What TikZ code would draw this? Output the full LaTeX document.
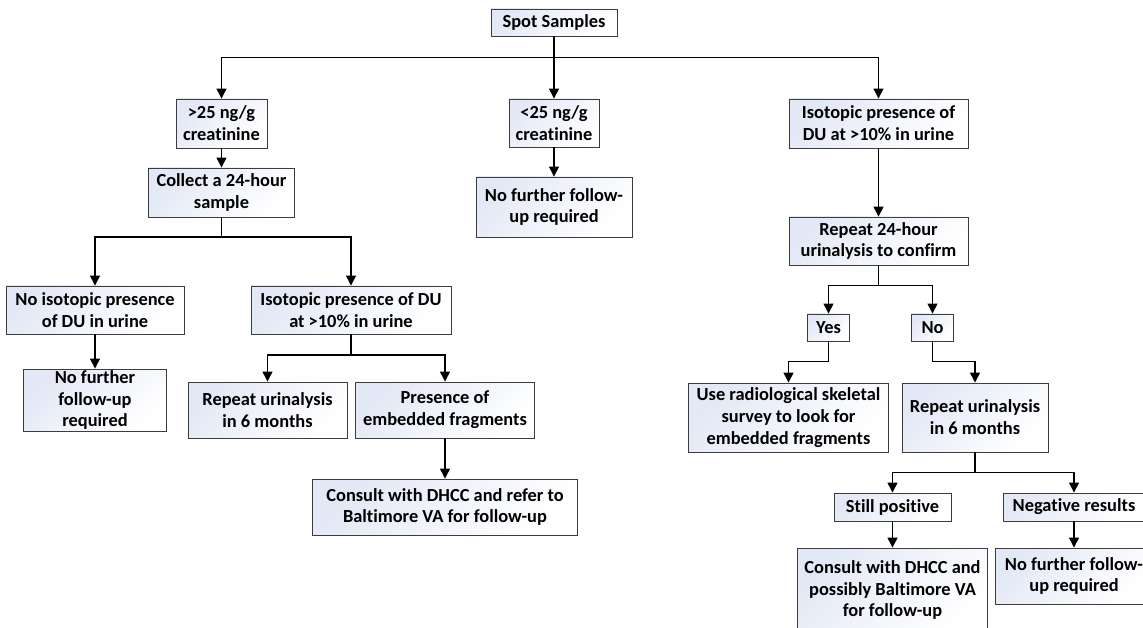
\documentclass[tikz,border=0pt]{standalone}
\usepackage{fontspec}
\setmainfont{Carlito}[Ligatures=NoCommon]
\usetikzlibrary{arrows.meta}
\definecolor{boxtl}{HTML}{E2E8F5}
\definecolor{boxedge}{HTML}{3C3C3C}
\tikzset{
  fbox/.style={draw=boxedge, line width=0.9pt, top color=boxtl, bottom color=white, shading angle=45,
    inner sep=0pt, align=center, font=\fontsize{18.4}{21.8}\selectfont\bfseries, text=black},
  arr/.style={line width=1.3pt, -{Triangle[width=10pt,length=10pt]}},
  ln/.style={line width=1.3pt}
}
\begin{document}
\begin{tikzpicture}[x=1pt,y=-1pt]
\useasboundingbox (0,0) rectangle (1143,628);
% nodes
\node[fbox, minimum width=126pt, minimum height=27pt] (spot) at (554,22.5) {Spot Samples};
\node[fbox, minimum width=91pt, minimum height=49pt] (gt25) at (221.5,123.5) {>25 ng/g\\creatinine};
\node[fbox, minimum width=90pt, minimum height=48pt] (lt25) at (554,123) {<25 ng/g\\creatinine};
\node[fbox, minimum width=179pt, minimum height=49pt] (iso1) at (878.5,123.5) {Isotopic presence of\\DU at >10\% in urine};
\node[fbox, minimum width=146pt, minimum height=49pt] (collect) at (221.5,192.5) {Collect a 24-hour\\sample};
\node[fbox, minimum width=156pt, minimum height=60pt] (nofu1) at (554,207) {No further follow-\\up required};
\node[fbox, minimum width=179pt, minimum height=48pt] (rep24) at (878.5,241) {Repeat 24-hour\\urinalysis to confirm};
\node[fbox, minimum width=178pt, minimum height=48pt] (noiso) at (95,310) {No isotopic presence\\of DU in urine};
\node[fbox, minimum width=200pt, minimum height=48pt] (iso2) at (351,310) {Isotopic presence of DU\\at >10\% in urine};
\node[fbox, minimum width=42pt, minimum height=27pt] (yes) at (828.5,327.5) {Yes};
\node[fbox, minimum width=42pt, minimum height=27pt] (no) at (932.5,327.5) {No};
\node[fbox, minimum width=143pt, minimum height=62pt] (nofu2) at (95,400) {No further\\follow-up\\required};
\node[fbox, minimum width=159pt, minimum height=56pt] (repA) at (267.5,410) {Repeat urinalysis\\in 6 months};
\node[fbox, minimum width=179pt, minimum height=56pt] (emb) at (445,410) {Presence of\\embedded fragments};
\node[fbox, minimum width=200pt, minimum height=69pt] (radio) at (788.5,417.5) {Use radiological skeletal\\survey to look for\\embedded fragments};
\node[fbox, minimum width=146pt, minimum height=69pt] (repB) at (975,417.5) {Repeat urinalysis\\in 6 months};
\node[fbox, minimum width=265pt, minimum height=56pt] (consult1) at (445,507) {Consult with DHCC and refer to\\Baltimore VA for follow-up};
\node[fbox, minimum width=117pt, minimum height=28pt] (still) at (892.5,507) {Still positive};
\node[fbox, minimum width=142pt, minimum height=28pt] (neg) at (1074,507) {Negative results};
\node[fbox, minimum width=190pt, minimum height=84pt] (consult2) at (892.5,590) {Consult with DHCC and\\possibly Baltimore VA\\for follow-up};
\node[fbox, minimum width=158pt, minimum height=56pt] (nofu3) at (1074,576) {No further follow-\\up required};
% junctions
\coordinate (j0) at (554,57.7);
\coordinate (j1) at (221.5,237);
\coordinate (j2) at (878.5,285.7);
\coordinate (j3) at (351,355);
\coordinate (j4) at (828.5,361.7);
\coordinate (j5) at (932.5,361.7);
\coordinate (j6) at (975,472.7);
% connectors
\draw[ln] (spot.south) -- (j0);
\draw[arr] (j0) -| (gt25.north);
\draw[arr] (j0) -| (iso1.north);
\draw[arr] (j0) -- (lt25.north);
\draw[arr] (gt25.south) -- (collect.north);
\draw[arr] (lt25.south) -- (nofu1.north);
\draw[arr] (iso1.south) -- (rep24.north);
\draw[ln] (collect.south) -- (j1);
\draw[arr] (j1) -| (noiso.north);
\draw[arr] (j1) -| (iso2.north);
\draw[ln] (rep24.south) -- (j2);
\draw[arr] (j2) -| (yes.north);
\draw[arr] (j2) -| (no.north);
\draw[arr] (noiso.south) -- (nofu2.north);
\draw[ln] (iso2.south) -- (j3);
\draw[arr] (j3) -| (repA.north);
\draw[arr] (j3) -| (emb.north);
\draw[ln] (yes.south) -- (j4);
\draw[arr] (j4) -| (radio.north);
\draw[ln] (no.south) -- (j5);
\draw[arr] (j5) -| (repB.north);
\draw[arr] (emb.south) -- (consult1.north);
\draw[ln] (repB.south) -- (j6);
\draw[arr] (j6) -| (still.north);
\draw[arr] (j6) -| (neg.north);
\draw[arr] (still.south) -- (consult2.north);
\draw[arr] (neg.south) -- (nofu3.north);
\end{tikzpicture}
\end{document}
